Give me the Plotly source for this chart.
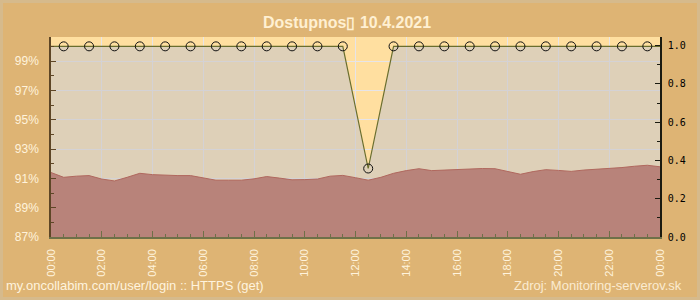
import plotly.graph_objects as go

# ---- data ----
avail_time = ["00:30", "01:30", "02:30", "03:30", "04:30", "05:30", "06:30", "07:30",
              "08:30", "09:30", "10:30", "11:30", "12:30", "13:30", "14:30", "15:30",
              "16:30", "17:30", "18:30", "19:30", "20:30", "21:30", "22:30", "23:30"]
avail_pct = [100, 100, 100, 100, 100, 100, 100, 100,
             100, 100, 100, 100, 91.67, 100, 100, 100,
             100, 100, 100, 100, 100, 100, 100, 100]

resp_time = ["00:00", "00:30", "01:00", "01:30", "02:00", "02:30", "03:00", "03:30",
             "04:00", "04:30", "05:00", "05:30", "06:00", "06:30", "07:00", "07:30",
             "08:00", "08:30", "09:00", "09:30", "10:00", "10:30", "11:00", "11:30",
             "12:00", "12:30", "13:00", "13:30", "14:00", "14:30", "15:00", "15:30",
             "16:00", "16:30", "17:00", "17:30", "18:00", "18:30", "19:00", "19:30",
             "20:00", "20:30", "21:00", "21:30", "22:00", "22:30", "23:00", "23:30", "24:00"]
resp_val = [0.337, 0.312, 0.318, 0.321, 0.303, 0.293, 0.312, 0.333,
            0.326, 0.322, 0.321, 0.321, 0.307, 0.297, 0.297, 0.297,
            0.304, 0.316, 0.308, 0.299, 0.300, 0.303, 0.318, 0.322,
            0.310, 0.297, 0.312, 0.333, 0.347, 0.357, 0.347, 0.350,
            0.352, 0.358, 0.358, 0.357, 0.342, 0.328, 0.342, 0.352,
            0.348, 0.343, 0.350, 0.354, 0.358, 0.363, 0.370, 0.375, 0.367]

x_tick_vals = [0, 2, 4, 6, 8, 10, 12, 14, 16, 18, 20, 22, 24]
x_tick_text = ["00:00", "02:00", "04:00", "06:00", "08:00", "10:00", "12:00",
               "14:00", "16:00", "18:00", "20:00", "22:00", "00:00"]
left_tick_vals = [87, 89, 91, 93, 95, 97, 99]
left_tick_text = ["87%", "89%", "91%", "93%", "95%", "97%", "99%"]
right_tick_vals = [0, 0.2, 0.4, 0.6, 0.8, 1.0]
right_tick_text = ["0.0", "0.2", "0.4", "0.6", "0.8", "1.0"]

title_text = "Dostupnos\u25AF 10.4.2021"
footer_left = "my.oncollabim.com/user/login :: HTTPS (get)"
footer_right = "Zdroj: Monitoring-serverov.sk"


def to_h(s):
    return int(s[:2]) + int(s[3:]) / 60.0


ax = [to_h(t) for t in avail_time]
rx = [to_h(t) for t in resp_time]
# line spans the whole day: extend first/last values to the axis edges
line_x = [rx[0]] + ax + [rx[-1]]
line_y = [avail_pct[0]] + avail_pct + [avail_pct[-1]]

ORANGE = "#FFDFA0"
GRID = "rgb(230,228,232)"
CREAM = "#FFF3DC"

fig = go.Figure()

# beige region below the availability line (semi-transparent so grid shows)
fig.add_trace(go.Scatter(
    x=line_x, y=line_y, mode="lines", fill="tozeroy",
    fillcolor="rgba(200,198,200,0.6)", line=dict(width=0),
    hoverinfo="skip", yaxis="y"))

# response-time area on right axis
fig.add_trace(go.Scatter(
    x=rx, y=resp_val, mode="lines", fill="tozeroy",
    fillcolor="rgb(184,131,122)", line=dict(color="#B0685E", width=1),
    yaxis="y2"))

# availability line with markers (on top)
fig.add_trace(go.Scatter(
    x=line_x, y=line_y, mode="lines", line=dict(color="#6A6E2E", width=1.2),
    yaxis="y3", hoverinfo="skip"))
fig.add_trace(go.Scatter(
    x=ax, y=avail_pct, mode="markers",
    marker=dict(symbol="circle-open", size=9, color="#111111", line=dict(width=1)),
    yaxis="y3"))

L, R, T, B = 51, 40, 37, 63
W, H = 700, 300
pw, ph = W - L - R, H - T - B


def px2x(p):
    return (p - L) / pw


def py2y(p):
    return (H - B - p) / ph


left_range = [87, 100.636]

fig.update_layout(
    width=W, height=H,
    margin=dict(l=L, r=R, t=T, b=B),
    paper_bgcolor="#DEB474",
    plot_bgcolor=ORANGE,
    showlegend=False,
    title=dict(text=title_text, x=347 / W, xanchor="center",
               y=1 - 22 / H, yanchor="middle",
               font=dict(family="Liberation Sans, Arial, sans-serif", size=16,
                         color="#FFF0D2", weight="bold")),
    xaxis=dict(range=[0, 24], tickvals=x_tick_vals, ticktext=x_tick_text,
               tickangle=-90, ticks="inside", ticklen=6, tickcolor="#6E7048",
               minor=dict(dtick=0.5, ticks="inside", ticklen=3, tickcolor="#6E7048",
                          showgrid=False),
               showline=True, linecolor="#6E7048", linewidth=1.5,
               showgrid=True, gridcolor=GRID, gridwidth=1, zeroline=False,
               tickfont=dict(family="Liberation Sans, Arial, sans-serif", size=11, color=CREAM),
               ticklabelstandoff=6, fixedrange=True),
    yaxis=dict(range=left_range, tickvals=left_tick_vals, ticktext=left_tick_text,
               ticks="inside", ticklen=5, tickcolor="#5E4626",
               minor=dict(dtick=1, ticks="inside", ticklen=3, tickcolor="#5E4626",
                          showgrid=False),
               showline=True, linecolor="#5E4626", linewidth=1.5,
               showgrid=True, gridcolor=GRID, zeroline=False,
               tickfont=dict(family="Liberation Sans, Arial, sans-serif", size=12, color=CREAM),
               ticklabelstandoff=8),
    yaxis2=dict(range=[0, 1.0455], overlaying="y", side="right",
                tickvals=right_tick_vals, ticktext=right_tick_text,
                ticks="inside", ticklen=5, tickcolor="#1A1A10",
                minor=dict(dtick=0.1, ticks="inside", ticklen=3, tickcolor="#1A1A10",
                           showgrid=False),
                showline=True, linecolor="#1A1A10", linewidth=1.5,
                showgrid=False, zeroline=False,
                tickfont=dict(family="DejaVu Sans Mono, monospace", size=10, color="#000000"),
                ticklabelstandoff=4),
    yaxis3=dict(range=left_range, overlaying="y", visible=False),
    annotations=[
        dict(text=footer_left, xref="paper", yref="paper", x=px2x(4), y=py2y(285),
             xanchor="left", yanchor="middle", showarrow=False,
             font=dict(family="Liberation Sans, Arial, sans-serif", size=13, color="#FFF3DE")),
        dict(text=footer_right, xref="paper", yref="paper", x=px2x(684), y=py2y(285),
             xanchor="right", yanchor="middle", showarrow=False,
             font=dict(family="Liberation Sans, Arial, sans-serif", size=13, color="#FBEBD0")),
    ],
    shapes=[
        dict(type="rect", xref="paper", yref="paper",
             x0=px2x(1.5), x1=px2x(698.5), y0=py2y(298.5), y1=py2y(1.5),
             line=dict(color="rgb(214,186,140)", width=3), layer="below"),
    ],
)

fig.write_html("out.html")
